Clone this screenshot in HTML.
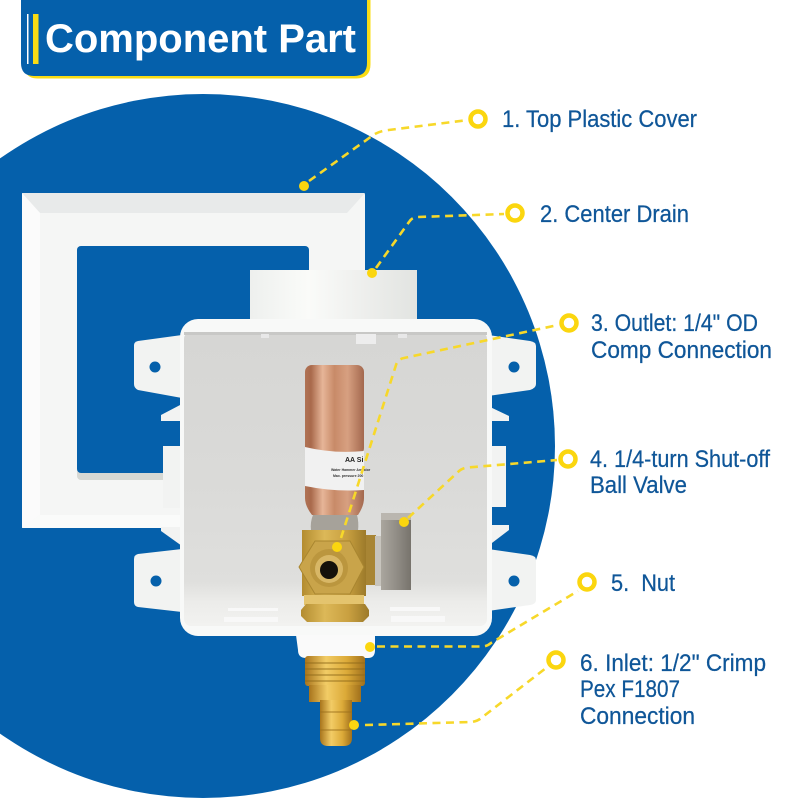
<!DOCTYPE html>
<html><head><meta charset="utf-8"><style>html,body{margin:0;padding:0;background:#fff}svg{display:block}text{font-family:"Liberation Sans",sans-serif}</style></head><body>
<svg width="800" height="800" viewBox="0 0 800 800" xmlns="http://www.w3.org/2000/svg">
<defs>
<linearGradient id="cu" x1="0" x2="1" y1="0" y2="0"><stop offset="0" stop-color="#b07355"/><stop offset=".1" stop-color="#a9694b"/><stop offset=".3" stop-color="#e6b598"/><stop offset=".5" stop-color="#c88a68"/><stop offset=".72" stop-color="#d7a081"/><stop offset="1" stop-color="#a3684e"/></linearGradient>
<linearGradient id="br" x1="0" x2="1" y1="0" y2="0"><stop offset="0" stop-color="#b38c30"/><stop offset=".35" stop-color="#dcb858"/><stop offset=".7" stop-color="#c9a040"/><stop offset="1" stop-color="#9c7a2a"/></linearGradient>
<linearGradient id="px" x1="0" x2="1" y1="0" y2="0"><stop offset="0" stop-color="#a8741c"/><stop offset=".35" stop-color="#f2cc66"/><stop offset=".7" stop-color="#dcaa38"/><stop offset="1" stop-color="#a0701c"/></linearGradient>
<linearGradient id="ag" x1="0" x2="1" y1="0" y2="0"><stop offset="0" stop-color="#aaa69e"/><stop offset=".5" stop-color="#928e87"/><stop offset="1" stop-color="#77736c"/></linearGradient>
<linearGradient id="inbox" x1="0" x2="0" y1="0" y2="1"><stop offset="0" stop-color="#d6d6d4"/><stop offset=".5" stop-color="#dadad8"/><stop offset=".85" stop-color="#dfdfdd"/><stop offset=".92" stop-color="#ececea"/><stop offset="1" stop-color="#f2f2f0"/></linearGradient>
<linearGradient id="cyl" x1="0" x2="1" y1="0" y2="0"><stop offset="0" stop-color="#eef0ee"/><stop offset=".35" stop-color="#fafbf9"/><stop offset=".7" stop-color="#edeeec"/><stop offset="1" stop-color="#e2e4e1"/></linearGradient>
</defs>
<rect width="800" height="800" fill="#fff"/>
<circle cx="203" cy="446" r="352" fill="#0560ab"/>
<!-- banner -->
<path d="M26 0H370.5V64Q370.5 78.5 356 78.5H38Q28 78.5 26 72Z" fill="#f9dc14"/>
<path d="M21 0H367V63Q367 76 354 76H34Q21 76 21 63Z" fill="#0560ab"/>
<rect x="27" y="14" width="1.5" height="50" fill="#fff"/>
<rect x="33" y="14" width="5.5" height="50" fill="#f9dc14"/>
<text x="45" y="52" font-size="40" font-weight="700" fill="#fff" textLength="311">Component Part</text>
<!-- plate -->
<rect x="22" y="193" width="343" height="335" rx="2" fill="#f5f6f5"/>
<polygon points="22,193 365,193 347,213 40,213" fill="#e8eaea"/>
<polygon points="22,193 40,213 40,515 22,528" fill="#fbfbfb"/>
<polygon points="22,528 40,515 200,515 200,528" fill="#fafbfa"/>
<rect x="77" y="246" width="232" height="234" rx="4" fill="#d6d8d4"/>
<rect x="77" y="246" width="232" height="227" rx="4" fill="#0560ab"/>
<!-- drain -->
<rect x="250" y="270" width="167" height="50" fill="url(#cyl)"/>
<!-- ears -->
<g fill="#f2f3f2">
<path d="M138 341L182 335V398L138 390Q134 388 134 384V345Q134 342 138 341Z"/>
<path d="M138 554L182 549V612L138 607Q134 606 134 602V559Q134 555 138 554Z"/>
<polygon points="182,404 161,415 161,421 182,421"/>
<polygon points="182,546 161,531 161,527 182,527"/>
<rect x="163" y="446" width="22" height="62"/>
<path d="M530 341L488 335V396L530 390Q536 388 536 384V346Q536 342 530 341Z"/>
<path d="M530 555L488 549V611L530 605Q536 604 536 600V560Q536 556 530 555Z"/>
<polygon points="488,406 509,416 509,421 488,421"/>
<polygon points="488,546 509,530 509,525 488,525"/>
<rect x="485" y="446" width="21" height="61"/>
</g>
<circle cx="155" cy="367" r="5.5" fill="#0560ab"/><circle cx="156" cy="581" r="5.5" fill="#0560ab"/>
<circle cx="514" cy="367" r="5.5" fill="#0560ab"/><circle cx="514" cy="581" r="5.5" fill="#0560ab"/>
<!-- box -->
<rect x="180" y="319" width="312" height="317" rx="18" fill="#f8f9f8"/>
<rect x="184" y="332" width="303" height="294" rx="7" fill="url(#inbox)"/>
<rect x="184" y="332" width="303" height="3" fill="#c8c8c6"/>
<rect x="356" y="334" width="20" height="10" fill="#ededed"/>
<rect x="261" y="334" width="8" height="4" fill="#e8e8e8"/><rect x="398" y="334" width="9" height="4" fill="#e8e8e8"/>
<rect x="228" y="608" width="50" height="3" fill="#f8f8f8"/><rect x="224" y="617" width="54" height="5" fill="#f8f8f8"/>
<rect x="390" y="607" width="50" height="4" fill="#f8f8f8"/><rect x="391" y="616" width="54" height="6" fill="#f8f8f8"/>
<!-- inlet -->
<path d="M296 635H375V650Q375 658 368 658H306Q298 658 298 650Z" fill="#fafafa"/>
<rect x="305" y="656" width="60" height="30" rx="3" fill="url(#px)"/>
<g stroke="#8e6a1a" stroke-width="1.2" opacity=".7"><path d="M305 663H365M305 669H365M305 675H365M305 681H365"/></g>
<path d="M309 685H361V702H309Z" fill="url(#px)"/>
<path d="M320 700H352V738Q352 746 344 746H328Q320 746 320 738Z" fill="url(#px)"/>
<g stroke="#9c701c" stroke-width="1.2" opacity=".7"><path d="M320 712H352M320 730H352"/></g>
<!-- arrestor -->
<rect x="305" y="365" width="59" height="90" rx="7" fill="url(#cu)"/>
<path d="M305 485H364V498Q364 506 358 515H312Q305 506 305 498Z" fill="url(#cu)"/>
<path d="M305 447Q334 454 364 451V490Q334 492 305 486Z" fill="#f1f1f1"/>
<text x="345" y="462" font-size="7" font-weight="700" fill="#222">AA Si</text>
<text x="331" y="471" font-size="3.5" font-weight="700" fill="#333">Water Hammer Arrestor</text>
<text x="333" y="477" font-size="3.5" font-weight="700" fill="#333">Max. pressure 200</text>
<path d="M313 515H357Q359 522 358 531H311Q310 522 313 515Z" fill="#a6a29a"/>
<rect x="302" y="530" width="64" height="66" fill="url(#br)"/>
<polygon points="299,567 315,541 350,541 364,567 350,594 315,594" fill="#c9a44a" stroke="#a98630" stroke-width="1"/>
<circle cx="329" cy="568" r="19" fill="#bb963e"/>
<circle cx="329" cy="569" r="14" fill="#d8b766"/>
<circle cx="329" cy="570" r="9" fill="#15110a"/>
<rect x="304" y="595" width="60" height="10" fill="#e4c46e"/>
<path d="M306 604H365L369 610V616L363 622H307L301 616V610Z" fill="url(#br)"/>
<rect x="366" y="535" width="10" height="50" fill="#a88534"/>
<rect x="375" y="536" width="8" height="50" fill="#c7c4bd"/>
<rect x="381" y="513" width="30" height="77" fill="url(#ag)"/>
<rect x="381" y="513" width="30" height="7" fill="#bab6af"/>
<!-- connectors -->
<g fill="none" stroke="#f7d82a" stroke-width="2.6" stroke-dasharray="8 5.5" stroke-linejoin="round">
<path d="M309 181L372 136Q377 132 385 130.5L468 120"/>
<path d="M376 268L409 222Q412 217 418 217L504 214"/>
<path d="M341 538L396 365Q398 359 404 358L558 325"/>
<path d="M408 518L458 472Q462 468 468 467.5L557 460"/>
<path d="M377 646.5H482Q487 646.5 491 643L578 591"/>
<path d="M365 725L472 722Q477 721 480 719L546 668"/>
</g>
<g fill="#fbd60f">
<circle cx="304" cy="186" r="5"/><circle cx="372" cy="273" r="5"/><circle cx="337" cy="547" r="5"/><circle cx="404" cy="522" r="5"/><circle cx="370" cy="647" r="5"/><circle cx="354" cy="725" r="5"/>
</g>
<g fill="#fff" stroke="#fbd60f" stroke-width="4.5">
<circle cx="478" cy="119" r="7.5"/><circle cx="515" cy="213" r="7.5"/><circle cx="569" cy="323" r="7.5"/><circle cx="568" cy="459" r="7.5"/><circle cx="587" cy="582" r="7.5"/><circle cx="556" cy="660" r="7.5"/>
</g>
<g font-size="24" fill="#0f5698" stroke="#0f5698" stroke-width=".25">
<text x="502" y="127" textLength="195" lengthAdjust="spacingAndGlyphs">1. Top Plastic Cover</text>
<text x="540" y="222" textLength="149" lengthAdjust="spacingAndGlyphs">2. Center Drain</text>
<text x="591" y="331" textLength="167" lengthAdjust="spacingAndGlyphs">3. Outlet: 1/4" OD</text>
<text x="591" y="358" textLength="181" lengthAdjust="spacingAndGlyphs">Comp Connection</text>
<text x="590" y="467" textLength="180" lengthAdjust="spacingAndGlyphs">4. 1/4-turn Shut-off</text>
<text x="590" y="493" textLength="97" lengthAdjust="spacingAndGlyphs">Ball Valve</text>
<text x="611" y="591" textLength="64" lengthAdjust="spacingAndGlyphs" xml:space="preserve">5.  Nut</text>
<text x="580" y="671" textLength="186" lengthAdjust="spacingAndGlyphs">6. Inlet: 1/2" Crimp</text>
<text x="580" y="697" textLength="100" lengthAdjust="spacingAndGlyphs">Pex F1807</text>
<text x="580" y="724" textLength="115" lengthAdjust="spacingAndGlyphs">Connection</text>
</g>
</svg>
</body></html>
